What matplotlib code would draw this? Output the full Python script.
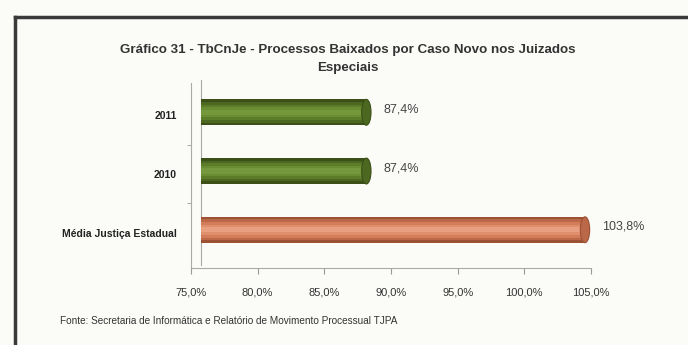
import matplotlib
matplotlib.use('Agg')
import matplotlib.pyplot as plt
import matplotlib.transforms as mtransforms
from matplotlib.patches import Ellipse
from matplotlib.lines import Line2D

plt.rcParams['font.family'] = ['Liberation Sans', 'DejaVu Sans']

categories = ['Média Justiça Estadual', '2010', '2011']
values = [103.8, 87.4, 87.4]
labels = ['103,8%', '87,4%', '87,4%']
xticks = [75, 80, 85, 90, 95, 100, 105]
xticklabels = ['75,0%', '80,0%', '85,0%', '90,0%', '95,0%', '100,0%', '105,0%']

green = ['#3b4f16', '#4c6820', '#5c7c2a', '#6a8c33', '#76983c']
salmon = ['#9c5034', '#bb6848', '#d27c5a', '#e08f6c', '#e9a080']

fig = plt.figure(figsize=(6.88, 3.45), dpi=100)
fig.patch.set_facecolor('#fbfbf8')

# frame of the scanned page
fig.add_artist(Line2D([15 / 688, 1.0], [1 - 17 / 345, 1 - 17 / 345], color='#3a3a3a', lw=2.5))
fig.add_artist(Line2D([15 / 688, 15 / 688], [0, 1 - 17 / 345], color='#3a3a3a', lw=2.5))

ax = fig.add_axes([191 / 688, 1 - 268 / 345, 400 / 688, 185 / 345])
ax.set_facecolor('none')

# 3D depth offset for the bars
shift = mtransforms.ScaledTranslation(10 / 100, 3 / 100, fig.dpi_scale_trans)
tr = ax.transData + shift

bar_h = 0.44
for i, (cat, v) in enumerate(zip(categories, values)):
    cols = salmon if i == 0 else green
    for k, frac in enumerate([1.0, 0.8, 0.6, 0.4, 0.2]):
        ax.barh(i, v - 75, left=75, height=bar_h * frac, color=cols[k],
                transform=tr, zorder=3 + k)
    ax.add_patch(Ellipse((v, i), 0.7, bar_h, facecolor=cols[1], edgecolor=cols[0],
                         lw=0.8, transform=tr, zorder=9))
    ax.text(v + 1.3, i + 0.05, labels[i], va='center', ha='left', fontsize=9,
            color='#444444', transform=tr)

ax.set_xlim(75, 105)
ax.set_ylim(-0.6, 2.55)
ax.set_xticks(xticks)
ax.set_xticklabels(xticklabels, fontsize=8, color='#333333')
ax.set_yticks([0, 1, 2])
ax.set_yticklabels(categories, fontsize=7.5, color='#222222', fontweight='bold')
ax.set_yticks([0.5, 1.5], minor=True)
ax.tick_params(axis='y', which='major', length=0, pad=10)
ax.tick_params(axis='y', which='minor', length=3, color='#999999', direction='out')
ax.tick_params(axis='x', length=4, color='#999999', pad=10)
for s in ['top', 'right']:
    ax.spines[s].set_visible(False)
ax.spines['left'].set_color('#aaaaaa')
ax.spines['bottom'].set_color('#aaaaaa')

# back wall line of the 3D frame
ax.plot([75, 75], [-0.6, 2.55], color='#aaaaaa', lw=0.8, transform=tr, clip_on=False)

fig.text(0.505, 1 - 50 / 345, 'Gráfico 31 - TbCnJe - Processos Baixados por Caso Novo nos Juizados',
         ha='center', va='center', fontsize=9.6, fontweight='bold', color='#333333')
fig.text(0.505, 1 - 68 / 345, 'Especiais', ha='center', va='center', fontsize=9.6,
         fontweight='bold', color='#333333')
fig.text(60 / 688, 1 - 321 / 345,
         'Fonte: Secretaria de Informática e Relatório de Movimento Processual TJPA',
         ha='left', va='center', fontsize=7.2, color='#333333')

fig.savefig('out.png', dpi=100, facecolor=fig.get_facecolor())
